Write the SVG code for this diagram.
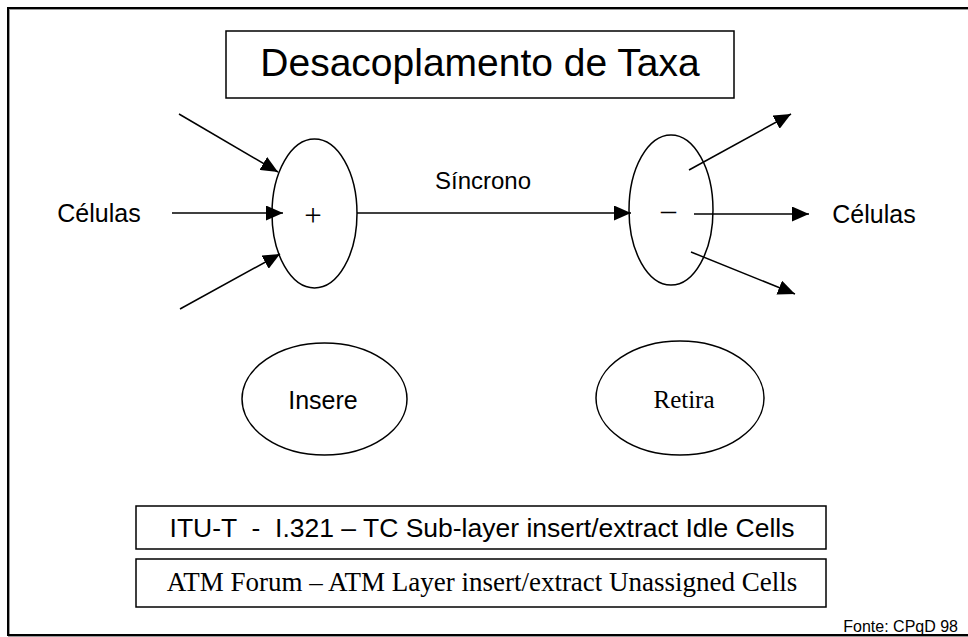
<svg xmlns="http://www.w3.org/2000/svg" width="968" height="637" viewBox="0 0 968 637">
  <style>
    .line { stroke: #000; stroke-width: 1.5; fill: none; }
    .shape { stroke: #000; stroke-width: 1.5; fill: #fff; }
    .sans { font-family: "Liberation Sans", Arial, sans-serif; fill: #000; }
    .serif { font-family: "Liberation Serif", "Times New Roman", serif; fill: #000; }
  </style>
  <defs>
    <marker id="head" viewBox="0 0 17 15" refX="17" refY="7.5" markerWidth="17" markerHeight="15" markerUnits="userSpaceOnUse" orient="auto">
      <path d="M0,0 L17,7.5 L0,15 Z" fill="#000"/>
    </marker>
  </defs>

  <!-- page frame -->
  <rect x="9" y="9" width="980" height="627" fill="none" stroke="#999" stroke-width="2"/>
  <rect x="8" y="8" width="980" height="627" fill="none" stroke="#000" stroke-width="2"/>

  <!-- title -->
  <g id="title">
    <rect class="shape" x="226" y="31" width="508" height="67"/>
    <text class="sans" x="480" y="76" font-size="39" text-anchor="middle">Desacoplamento de Taxa</text>
  </g>

  <!-- connectors -->
  <g id="connectors">
    <line class="line" x1="179" y1="114" x2="278" y2="172" marker-end="url(#head)"/>
    <line class="line" x1="172" y1="213" x2="283" y2="213" marker-end="url(#head)"/>
    <line class="line" x1="180" y1="309" x2="280" y2="254" marker-end="url(#head)"/>
    <line class="line" x1="357" y1="213" x2="631" y2="213" marker-end="url(#head)"/>
    <line class="line" x1="689" y1="170" x2="791" y2="114" marker-end="url(#head)"/>
    <line class="line" x1="694" y1="214" x2="809" y2="214" marker-end="url(#head)"/>
    <line class="line" x1="691" y1="252" x2="795" y2="294" marker-end="url(#head)"/>
  </g>

  <!-- inputs / outputs -->
  <g id="label-in">
    <text class="sans" x="99" y="222" font-size="25" text-anchor="middle">Células</text>
  </g>
  <g id="label-out">
    <text class="sans" x="874" y="223" font-size="25" text-anchor="middle">Células</text>
  </g>
  <g id="label-sync">
    <text class="sans" x="483" y="189" font-size="24" text-anchor="middle">Síncrono</text>
  </g>

  <!-- adder -->
  <g id="adder">
    <ellipse class="line" cx="314.5" cy="213.5" rx="42.5" ry="74.5"/>
    <text class="serif" x="313" y="226" font-size="31" text-anchor="middle">+</text>
  </g>

  <!-- subtractor -->
  <g id="subtractor">
    <ellipse class="line" cx="671" cy="210" rx="42" ry="75"/>
    <text class="serif" x="668.5" y="220" font-size="30" text-anchor="middle">–</text>
  </g>

  <!-- insert -->
  <g id="insere">
    <ellipse class="line" cx="324.5" cy="399" rx="82.5" ry="56"/>
    <text class="sans" x="323" y="409" font-size="25" text-anchor="middle">Insere</text>
  </g>

  <!-- remove -->
  <g id="retira">
    <ellipse class="line" cx="680" cy="398" rx="84" ry="57"/>
    <text class="serif" x="684" y="408" font-size="25" text-anchor="middle">Retira</text>
  </g>

  <!-- standards -->
  <g id="itu">
    <rect class="shape" x="136" y="506" width="690" height="43"/>
    <text class="sans" x="482" y="537" font-size="26.5" text-anchor="middle" xml:space="preserve">ITU-T  -  I.321 – TC Sub-layer insert/extract Idle Cells</text>
  </g>
  <g id="atm">
    <rect class="shape" x="136" y="559" width="690" height="48"/>
    <text class="serif" x="482" y="591" font-size="27" text-anchor="middle">ATM Forum – ATM Layer insert/extract Unassigned Cells</text>
  </g>

  <!-- source -->
  <g id="fonte">
    <text class="sans" x="958" y="632" font-size="16" text-anchor="end">Fonte: CPqD 98</text>
  </g>
</svg>
